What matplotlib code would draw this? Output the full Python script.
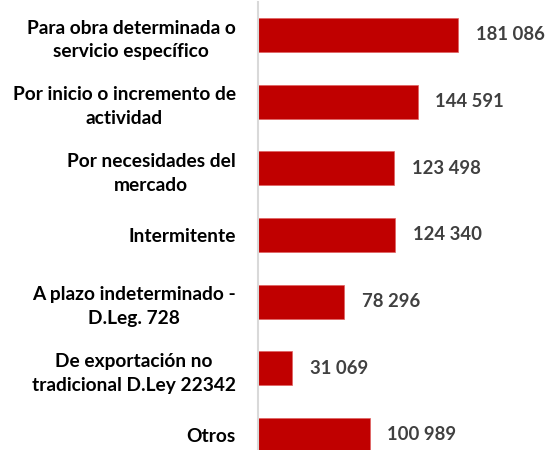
import matplotlib
matplotlib.use('Agg')
import matplotlib.pyplot as plt

categories = ['Para obra determinada o\nservicio específico',
              'Por inicio o incremento de\nactividad',
              'Por necesidades del\nmercado',
              'Intermitente',
              'A plazo indeterminado -\nD.Leg. 728',
              'De exportación no\ntradicional D.Ley 22342',
              'Otros']
values = [181086, 144591, 123498, 124340, 78296, 31069, 100989]
value_labels = ['181 086', '144 591', '123 498', '124 340', '78 296', '31 069', '100 989']

plt.rcParams['font.family'] = ['Lato', 'DejaVu Sans']

fig = plt.figure(figsize=(5.46, 4.5), dpi=100)
ax = fig.add_axes([258 / 546, 0, 288 / 546, 448 / 450])

pos = list(range(len(values)))
ax.barh(pos, values, height=0.51, color='#C00000', edgecolor='#E06060', linewidth=0.5)
for p, v, lab in zip(pos, values, value_labels):
    ax.text(v + 16000, p, lab, va='center', ha='left', fontsize=13.3,
            fontweight='bold', color='#404040')

ax.set_xlim(0, 260750)
ax.set_ylim(6.225, -0.495)
ax.set_yticks(pos)
ax.set_yticklabels(categories, fontsize=13.8, fontweight='bold', color='black',
                   multialignment='center', linespacing=1.5)
ax.tick_params(axis='y', length=0, pad=16)
ax.set_xticks([])
for s in ['top', 'right', 'bottom']:
    ax.spines[s].set_visible(False)
ax.spines['left'].set_color('#D9D9D9')
ax.spines['left'].set_linewidth(1.5)

fig.savefig('out.png', dpi=100)
